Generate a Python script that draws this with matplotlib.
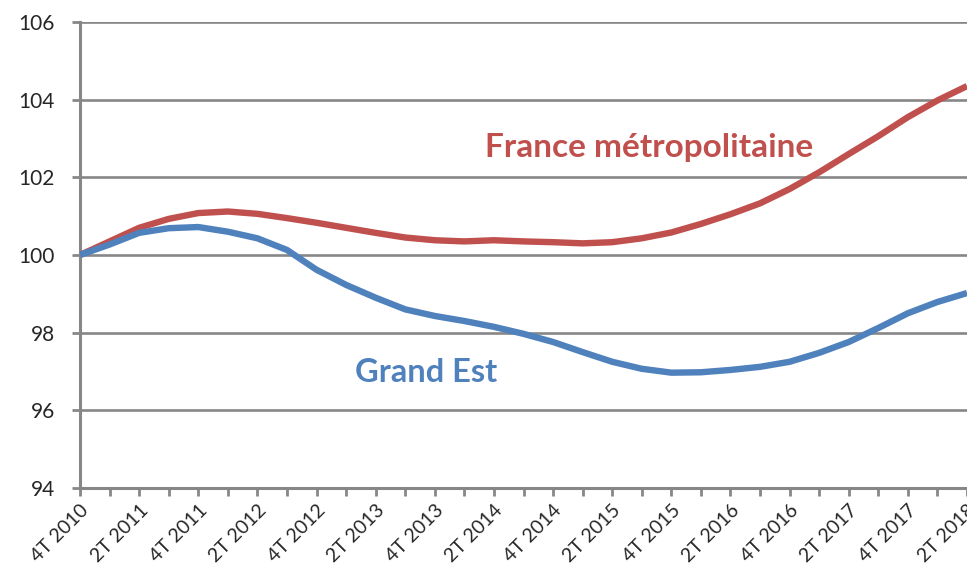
import numpy as np
import matplotlib
matplotlib.use("Agg")
import matplotlib.pyplot as plt

# trimestres de 4T 2010 a 2T 2018
quarters = []
for year in range(2010, 2019):
    for q in range(1, 5):
        if (year == 2010 and q < 4) or (year == 2018 and q > 2):
            continue
        quarters.append(f"{q}T {year}")

france = [100.0, 100.35, 100.7, 100.93, 101.08, 101.12, 101.06, 100.95, 100.83, 100.7,
          100.57, 100.45, 100.38, 100.35, 100.38, 100.35, 100.33, 100.3, 100.33, 100.43,
          100.58, 100.8, 101.05, 101.33, 101.7, 102.13, 102.6, 103.06, 103.55, 103.98,
          104.35]
grand_est = [100.0, 100.27, 100.57, 100.69, 100.72, 100.6, 100.43, 100.13, 99.62, 99.23,
             98.9, 98.6, 98.43, 98.3, 98.15, 97.97, 97.76, 97.5, 97.25, 97.07,
             96.97, 96.98, 97.04, 97.12, 97.25, 97.48, 97.76, 98.12, 98.5, 98.79,
             99.02]
yticks = [94, 96, 98, 100, 102, 104, 106]

red = "#C0504D"
blue = "#4F81BD"
grey = "#878787"

plt.rcParams['font.family'] = ['Lato', 'DejaVu Sans']

fig = plt.figure(figsize=(9.67, 5.8), dpi=100)
ax = fig.add_axes([80 / 967, 1 - 488 / 580, 1 - 80 / 967, (488 - 22) / 580])

x = np.arange(len(quarters))
ax.plot(x, france, color=red, lw=4.6, solid_capstyle="butt", zorder=3)
ax.plot(x, grand_est, color=blue, lw=4.6, solid_capstyle="butt", zorder=3)

ax.set_ylim(94, 106)
ax.set_xlim(0, len(quarters) - 1)
ax.set_yticks(yticks)
ax.set_yticklabels([str(v) for v in yticks], fontsize=15, color="#262626")
ax.yaxis.grid(True, color=grey, lw=1.9)
ax.set_axisbelow(True)

ax.set_xticks(x)
ax.set_xticklabels([q if i % 2 == 0 else "" for i, q in enumerate(quarters)],
                   rotation=45, ha="right", rotation_mode="anchor",
                   fontsize=14, color="#262626")

for s in ["top", "right"]:
    ax.spines[s].set_visible(False)
for s in ["left", "bottom"]:
    ax.spines[s].set_color(grey)
    ax.spines[s].set_linewidth(2.2)
ax.tick_params(axis="both", color=grey, width=2, length=6)
ax.tick_params(axis="y", pad=12)
ax.tick_params(axis="x", pad=4)

# libelles des series, places en pixels (origine en bas a gauche)
ax.text(485, 580 - 147, "France métropolitaine", transform=None, color=red,
        fontsize=24, fontweight="bold", va="center", ha="left")
ax.text(355, 580 - 372, "Grand Est", transform=None, color=blue,
        fontsize=23.5, fontweight="bold", va="center", ha="left")

fig.savefig("out.png", dpi=100)
